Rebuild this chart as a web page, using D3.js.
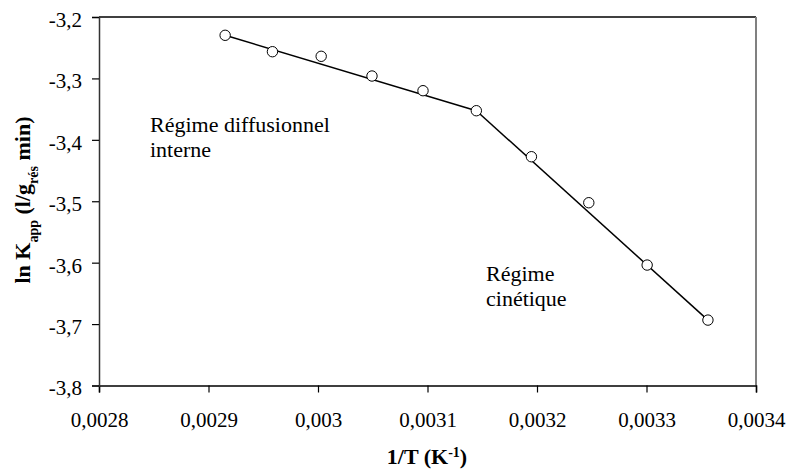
<!DOCTYPE html>
<html><head><meta charset="utf-8">
<script src="https://cdn.jsdelivr.net/npm/d3@7"></script>
<style>body{margin:0;background:#fff}svg{display:block}</style>
</head><body><svg id="c" width="790" height="473"></svg>
<script>
const invT = [0.0029152, 0.0029584, 0.0030029, 0.0030493, 0.0030959, 0.0031446, 0.0031949, 0.0032473, 0.0033006, 0.0033561];
const lnK = [-3.2298, -3.2565, -3.2640, -3.2961, -3.3200, -3.3526, -3.4275, -3.5024, -3.6039, -3.6935];
const fitDiff = [[0.0029152, -3.2298], [0.0031446, -3.3526]];
const fitKin = [[0.0031446, -3.3526], [0.0033561, -3.6935]];
const xTicks = [0.0028, 0.0029, 0.0030, 0.0031, 0.0032, 0.0033, 0.0034];
const yTicks = [-3.2, -3.3, -3.4, -3.5, -3.6, -3.7, -3.8];

const FONT = "Liberation Serif, DejaVu Serif, Times New Roman, serif";
const svg = d3.select("#c");
const W = 790, H = 473, m = {l: 99, t: 17, r: 34, b: 87.5};
const x = d3.scaleLinear().domain([0.0028, 0.0034]).range([m.l, W - m.r]);
const y = d3.scaleLinear().domain([-3.8, -3.2]).range([H - m.b, m.t]);
const loc = d3.formatLocale({decimal: ",", thousands: " ", grouping: [3], currency: ["", ""], minus: "-"});
const fx = loc.format(".4~f"), fy = loc.format(".1f");

svg.append("line").attr("x1", x(0.0028)).attr("x2", x(0.0034)).attr("y1", y(-3.2)).attr("y2", y(-3.2)).attr("stroke", "#000").attr("stroke-width", 1.5);
svg.append("line").attr("x1", x(0.0034)).attr("x2", x(0.0034)).attr("y1", y(-3.2)).attr("y2", y(-3.8)).attr("stroke", "#808080").attr("stroke-width", 2);

const gx = svg.append("g").attr("transform", `translate(0,${y(-3.8)})`)
  .call(d3.axisBottom(x).tickValues(xTicks).tickFormat(fx).tickSize(7).tickPadding(20));
const gy = svg.append("g").attr("transform", `translate(${x(0.0028)},0)`)
  .call(d3.axisLeft(y).tickValues(yTicks).tickFormat(fy).tickSize(7).tickPadding(10));
[gx, gy].forEach(g => {
  g.attr("font-family", FONT).attr("font-size", 21);
  g.select(".domain").attr("stroke", "#000").attr("stroke-width", 1.5);
  g.selectAll(".tick line").attr("stroke", "#000").attr("stroke-width", 1.2);
  g.selectAll(".tick text").attr("fill", "#000");
});
gy.selectAll(".tick text").attr("dy", "0.45em");
gy.select(".domain").attr("stroke", "#333");

const line = d3.line().x(d => x(d[0])).y(d => y(d[1]));
[fitDiff, fitKin].forEach(seg => svg.append("path").attr("d", line(seg)).attr("fill", "none").attr("stroke", "#000").attr("stroke-width", 1.5));

svg.selectAll("circle.pt").data(invT.map((v, i) => [v, lnK[i]])).enter().append("circle")
  .attr("class", "pt").attr("cx", d => x(d[0])).attr("cy", d => y(d[1])).attr("r", 5.2)
  .attr("fill", "#fff").attr("stroke", "#000").attr("stroke-width", 1);

const ann = (t, xx, yy) => svg.append("text").attr("x", xx).attr("y", yy).attr("font-family", FONT).attr("font-size", 22).text(t);
ann("Régime diffusionnel", 150, 132);
ann("interne", 150, 157);
ann("Régime", 486, 281);
ann("cinétique", 486, 306);

const xt = svg.append("text").attr("x", 427).attr("y", 464).attr("text-anchor", "middle").attr("font-family", FONT).attr("font-size", 22).attr("font-weight", "bold");
xt.append("tspan").text("1/T (K");
xt.append("tspan").attr("baseline-shift", "super").attr("font-size", 14).text("-1");
xt.append("tspan").text(")");

const yt = svg.append("text").attr("transform", `translate(30,200) rotate(-90)`).attr("text-anchor", "middle").attr("font-family", FONT).attr("font-size", 22).attr("font-weight", "bold");
yt.append("tspan").text("ln K");
yt.append("tspan").attr("baseline-shift", "sub").attr("font-size", 14).text("app");
yt.append("tspan").text(" (l/g");
yt.append("tspan").attr("baseline-shift", "sub").attr("font-size", 14).text("rés");
yt.append("tspan").text(" min)");
</script></body></html>
